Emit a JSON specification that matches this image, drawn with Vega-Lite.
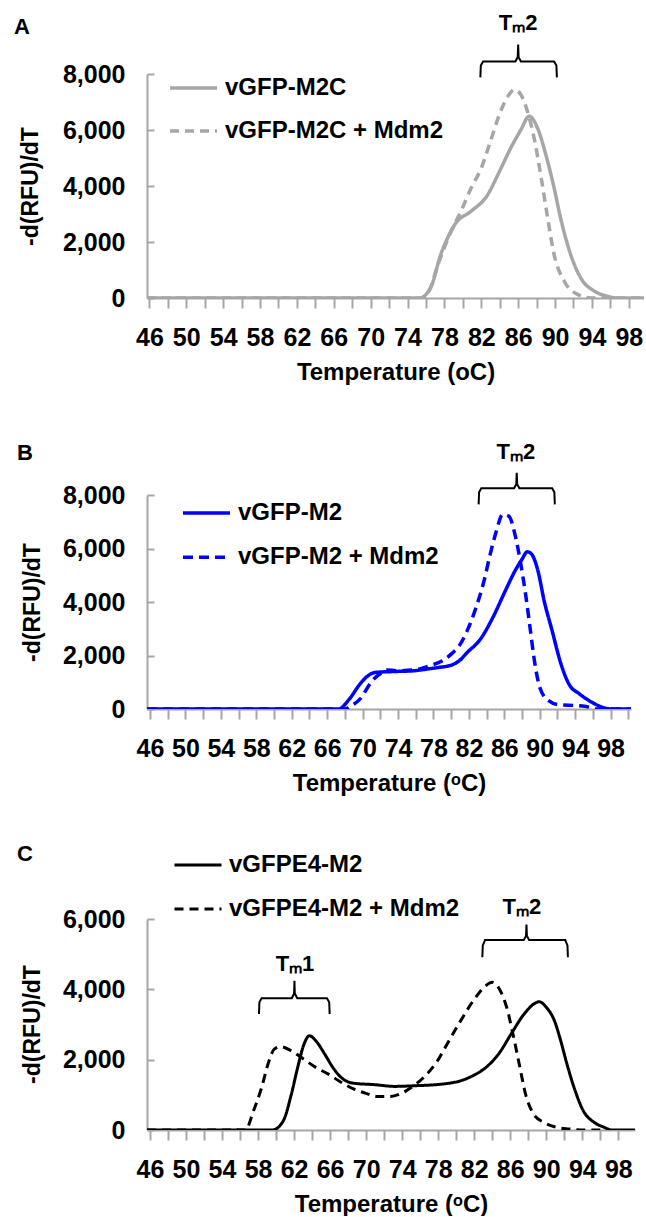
{
"$schema": "https://vega.github.io/schema/vega-lite/v6.json",
"padding": {"left": 14, "top": 11, "right": 0, "bottom": 0},
"config": {
  "view": {"stroke": null},
  "font": "Liberation Sans",
  "axis": {"domainColor": "#a6a6a6", "domainWidth": 2, "tickColor": "#a6a6a6", "tickWidth": 2, "grid": false, "labelColor": "#000", "titleColor": "#000", "labelFontWeight": "bold", "titleFontWeight": "bold", "labelFlush": false, "labelOverlap": false},
  "legend": {"title": null, "orient": "none", "symbolType": "stroke", "symbolSize": 2209, "symbolStrokeWidth": 3.5, "labelFontSize": 24, "labelFontWeight": "bold", "labelColor": "#000", "padding": 0, "labelOffset": 6, "labelLimit": 400},
  "title": {"anchor": "start", "frame": "group", "fontSize": 22, "fontWeight": "bold", "color": "#000", "baseline": "alphabetic"}
},
"spacing": 197,
"bounds": "flush",
"resolve": {"scale": {"strokeDash": "independent"}, "legend": {"strokeDash": "independent"}},
"vconcat": [
{
  "width": 497, "height": 224,
  "title": {"text": "A", "dx": -133, "offset": 36, "dy": 63.6},
  "resolve": {"axis": {"x": "independent"}},
  "layer": [
    {
      "data": {"values": [
        {"s":"vGFP-M2C","T":45.7,"v":0},{"s":"vGFP-M2C","T":60,"v":0},{"s":"vGFP-M2C","T":75.3,"v":0},{"s":"vGFP-M2C","T":76.5,"v":360},{"s":"vGFP-M2C","T":77.6,"v":1550},{"s":"vGFP-M2C","T":78.7,"v":2380},{"s":"vGFP-M2C","T":79.25,"v":2680},{"s":"vGFP-M2C","T":80.9,"v":3100},{"s":"vGFP-M2C","T":82.7,"v":3690},{"s":"vGFP-M2C","T":83.8,"v":4400},{"s":"vGFP-M2C","T":85.2,"v":5360},{"s":"vGFP-M2C","T":86.3,"v":6010},{"s":"vGFP-M2C","T":87.2,"v":6490},{"s":"vGFP-M2C","T":88.1,"v":6070},{"s":"vGFP-M2C","T":89.0,"v":5120},{"s":"vGFP-M2C","T":89.9,"v":3930},{"s":"vGFP-M2C","T":90.6,"v":2860},{"s":"vGFP-M2C","T":91.7,"v":1550},{"s":"vGFP-M2C","T":92.8,"v":710},{"s":"vGFP-M2C","T":94.3,"v":240},{"s":"vGFP-M2C","T":95.7,"v":60},{"s":"vGFP-M2C","T":96.8,"v":0},{"s":"vGFP-M2C","T":99.7,"v":0},
        {"s":"vGFP-M2C + Mdm2","T":45.7,"v":0},{"s":"vGFP-M2C + Mdm2","T":60,"v":0},{"s":"vGFP-M2C + Mdm2","T":75.6,"v":0},{"s":"vGFP-M2C + Mdm2","T":76.4,"v":300},{"s":"vGFP-M2C + Mdm2","T":77.3,"v":1190},{"s":"vGFP-M2C + Mdm2","T":78.9,"v":2500},{"s":"vGFP-M2C + Mdm2","T":79.8,"v":3100},{"s":"vGFP-M2C + Mdm2","T":80.9,"v":3930},{"s":"vGFP-M2C + Mdm2","T":82.0,"v":4640},{"s":"vGFP-M2C + Mdm2","T":83.0,"v":5600},{"s":"vGFP-M2C + Mdm2","T":84.1,"v":6670},{"s":"vGFP-M2C + Mdm2","T":85.0,"v":7260},{"s":"vGFP-M2C + Mdm2","T":85.6,"v":7440},{"s":"vGFP-M2C + Mdm2","T":86.3,"v":7260},{"s":"vGFP-M2C + Mdm2","T":87.0,"v":6670},{"s":"vGFP-M2C + Mdm2","T":87.8,"v":5600},{"s":"vGFP-M2C + Mdm2","T":88.5,"v":4290},{"s":"vGFP-M2C + Mdm2","T":89.2,"v":2860},{"s":"vGFP-M2C + Mdm2","T":89.9,"v":1550},{"s":"vGFP-M2C + Mdm2","T":91.0,"v":600},{"s":"vGFP-M2C + Mdm2","T":92.5,"v":120},{"s":"vGFP-M2C + Mdm2","T":93.9,"v":0},{"s":"vGFP-M2C + Mdm2","T":99.7,"v":0}
      ]},
      "mark": {"type": "line", "color": "#a6a6a6", "strokeWidth": 3.5, "clip": true, "interpolate": "monotone"},
      "encoding": {
        "x": {"field": "T", "type": "quantitative", "scale": {"domain": [45.74, 99.65], "nice": false, "zero": false},
          "axis": {"orient": "bottom", "values": [46,50,54,58,62,66,70,74,78,82,86,90,94,98], "ticks": false, "labelOverlap": false, "title": "Temperature (oC)", "titleFontSize": 24, "titleY": 62, "titleBaseline": "top", "labelFontSize": 25, "labelPadding": 27}},
        "y": {"field": "v", "type": "quantitative", "scale": {"domain": [0, 8000], "nice": false},
          "axis": {"values": [0,1000,2000,3000,4000,5000,6000,7000,8000], "labelExpr": "datum.value % 2000 == 0 ? format(datum.value, ',') : ''", "labelOverlap": false, "title": "-d(RFU)/dT", "titleFontSize": 23, "titleX": -117, "titleY": 112, "titleAngle": -90, "titleBaseline": "middle", "titleAlign": "center", "labelFontSize": 25, "labelPadding": 29, "tickSize": -7}},
        "strokeDash": {"field": "s", "type": "nominal", "scale": {"domain": ["vGFP-M2C", "vGFP-M2C + Mdm2"], "range": [[1, 0], [9, 6]]},
          "legend": {"legendX": 21, "legendY": -11.5, "rowPadding": 5, "symbolStrokeColor": "#a6a6a6"}}
      }
    },
    {
      "data": {"values": [
        {"o":1,"T":81.9,"v":7880},{"o":2,"T":81.95,"v":8300},{"o":3,"T":82.2,"v":8450},{"o":4,"T":85.7,"v":8450},{"o":5,"T":85.95,"v":8600},{"o":6,"T":86.0,"v":9050},{"o":7,"T":86.05,"v":8600},{"o":8,"T":86.3,"v":8450},{"o":9,"T":89.9,"v":8450},{"o":10,"T":90.15,"v":8300},{"o":11,"T":90.2,"v":7880}
      ]},
      "mark": {"type": "line", "color": "#000", "strokeWidth": 2, "clip": false},
      "encoding": {"x": {"field": "T", "type": "quantitative", "axis": {"orient": "bottom", "values": [46,48,50,52,54,56,58,60,62,64,66,68,70,72,74,76,78,80,82,84,86,88,90,92,94,96,98], "labels": false, "domain": false, "title": null, "tickSize": 10}}, "y": {"field": "v", "type": "quantitative"}, "order": {"field": "o", "type": "quantitative"}}
    },
    {
      "data": {"values": [{"T": 86.0, "v": 9580, "label": "Tₘ2"}]},
      "mark": {"type": "text", "fontSize": 22, "fontWeight": "bold", "color": "#000", "baseline": "alphabetic", "align": "center", "clip": false},
      "encoding": {"x": {"field": "T", "type": "quantitative", "axis": null}, "y": {"field": "v", "type": "quantitative"}, "text": {"field": "label"}}
    }
  ]
},
{
  "spacing": 210,
  "bounds": "flush",
  "resolve": {"scale": {"strokeDash": "independent"}, "legend": {"strokeDash": "independent"}},
  "vconcat": [
  {
    "width": 484, "height": 214,
    "title": {"text": "B", "dx": -130, "offset": 22, "dy": 45.3},
    "resolve": {"axis": {"x": "independent"}},
    "layer": [
      {
        "data": {"values": [
          {"s":"vGFP-M2","T":45.66,"v":0},{"s":"vGFP-M2","T":60,"v":0},{"s":"vGFP-M2","T":67.3,"v":0},{"s":"vGFP-M2","T":68.5,"v":370},{"s":"vGFP-M2","T":69.7,"v":930},{"s":"vGFP-M2","T":70.6,"v":1240},{"s":"vGFP-M2","T":71.5,"v":1370},{"s":"vGFP-M2","T":73.4,"v":1400},{"s":"vGFP-M2","T":75.8,"v":1430},{"s":"vGFP-M2","T":77.2,"v":1490},{"s":"vGFP-M2","T":78.6,"v":1555},{"s":"vGFP-M2","T":80.0,"v":1640},{"s":"vGFP-M2","T":80.9,"v":1800},{"s":"vGFP-M2","T":81.8,"v":2110},{"s":"vGFP-M2","T":83.3,"v":2610},{"s":"vGFP-M2","T":84.7,"v":3420},{"s":"vGFP-M2","T":86.1,"v":4410},{"s":"vGFP-M2","T":87.2,"v":5160},{"s":"vGFP-M2","T":88.0,"v":5600},{"s":"vGFP-M2","T":88.6,"v":5880},{"s":"vGFP-M2","T":89.1,"v":5780},{"s":"vGFP-M2","T":89.8,"v":5160},{"s":"vGFP-M2","T":90.5,"v":4040},{"s":"vGFP-M2","T":91.4,"v":2920},{"s":"vGFP-M2","T":92.4,"v":1680},{"s":"vGFP-M2","T":93.3,"v":930},{"s":"vGFP-M2","T":94.5,"v":560},{"s":"vGFP-M2","T":95.9,"v":250},{"s":"vGFP-M2","T":97.1,"v":60},{"s":"vGFP-M2","T":98.0,"v":0},{"s":"vGFP-M2","T":100.3,"v":0},
          {"s":"vGFP-M2 + Mdm2","T":45.66,"v":0},{"s":"vGFP-M2 + Mdm2","T":60,"v":0},{"s":"vGFP-M2 + Mdm2","T":68.0,"v":0},{"s":"vGFP-M2 + Mdm2","T":68.6,"v":100},{"s":"vGFP-M2 + Mdm2","T":69.7,"v":370},{"s":"vGFP-M2 + Mdm2","T":71.1,"v":1060},{"s":"vGFP-M2 + Mdm2","T":72.2,"v":1370},{"s":"vGFP-M2 + Mdm2","T":72.7,"v":1460},{"s":"vGFP-M2 + Mdm2","T":73.9,"v":1430},{"s":"vGFP-M2 + Mdm2","T":75.8,"v":1460},{"s":"vGFP-M2 + Mdm2","T":77.6,"v":1620},{"s":"vGFP-M2 + Mdm2","T":79.0,"v":1800},{"s":"vGFP-M2 + Mdm2","T":80.0,"v":2050},{"s":"vGFP-M2 + Mdm2","T":80.9,"v":2360},{"s":"vGFP-M2 + Mdm2","T":81.8,"v":2920},{"s":"vGFP-M2 + Mdm2","T":82.8,"v":3790},{"s":"vGFP-M2 + Mdm2","T":83.7,"v":4780},{"s":"vGFP-M2 + Mdm2","T":84.4,"v":5780},{"s":"vGFP-M2 + Mdm2","T":85.1,"v":6650},{"s":"vGFP-M2 + Mdm2","T":85.8,"v":7270},{"s":"vGFP-M2 + Mdm2","T":86.5,"v":7210},{"s":"vGFP-M2 + Mdm2","T":87.2,"v":6530},{"s":"vGFP-M2 + Mdm2","T":87.8,"v":5530},{"s":"vGFP-M2 + Mdm2","T":88.4,"v":4290},{"s":"vGFP-M2 + Mdm2","T":88.9,"v":3050},{"s":"vGFP-M2 + Mdm2","T":89.4,"v":1800},{"s":"vGFP-M2 + Mdm2","T":90.0,"v":810},{"s":"vGFP-M2 + Mdm2","T":91.0,"v":310},{"s":"vGFP-M2 + Mdm2","T":92.1,"v":160},{"s":"vGFP-M2 + Mdm2","T":94.5,"v":120},{"s":"vGFP-M2 + Mdm2","T":95.7,"v":60},{"s":"vGFP-M2 + Mdm2","T":96.4,"v":0},{"s":"vGFP-M2 + Mdm2","T":100.3,"v":0}
        ]},
        "mark": {"type": "line", "color": "#0000ff", "strokeWidth": 3.5, "clip": true, "interpolate": "monotone"},
        "encoding": {
          "x": {"field": "T", "type": "quantitative", "scale": {"domain": [45.66, 100.3], "nice": false, "zero": false},
            "axis": {"orient": "bottom", "values": [46,50,54,58,62,66,70,74,78,82,86,90,94,98], "ticks": false, "labelOverlap": false, "title": "Temperature (ᵒC)", "titleFontSize": 24, "titleY": 62, "titleBaseline": "top", "labelFontSize": 25, "labelPadding": 27}},
          "y": {"field": "v", "type": "quantitative", "scale": {"domain": [0, 8000], "nice": false},
            "axis": {"values": [0,1000,2000,3000,4000,5000,6000,7000,8000], "labelExpr": "datum.value % 2000 == 0 ? format(datum.value, ',') : ''", "labelOverlap": false, "title": "-d(RFU)/dT", "titleFontSize": 23, "titleX": -115, "titleY": 107, "titleAngle": -90, "titleBaseline": "middle", "titleAlign": "center", "labelFontSize": 25, "labelPadding": 29, "tickSize": -7}},
          "strokeDash": {"field": "s", "type": "nominal", "scale": {"domain": ["vGFP-M2", "vGFP-M2 + Mdm2"], "range": [[1, 0], [10, 6]]},
            "legend": {"legendX": 34, "legendY": -7.5, "rowPadding": 6.3, "symbolStrokeColor": "#0000ff"}}
        }
      },
      {
        "data": {"values": [
          {"o":1,"T":83.1,"v":7650},{"o":2,"T":83.15,"v":8100},{"o":3,"T":83.4,"v":8250},{"o":4,"T":87.1,"v":8250},{"o":5,"T":87.35,"v":8400},{"o":6,"T":87.4,"v":8830},{"o":7,"T":87.45,"v":8400},{"o":8,"T":87.7,"v":8250},{"o":9,"T":91.4,"v":8250},{"o":10,"T":91.65,"v":8100},{"o":11,"T":91.7,"v":7650}
        ]},
        "mark": {"type": "line", "color": "#000", "strokeWidth": 2, "clip": false},
        "encoding": {"x": {"field": "T", "type": "quantitative", "axis": {"orient": "bottom", "values": [46,48,50,52,54,56,58,60,62,64,66,68,70,72,74,76,78,80,82,84,86,88,90,92,94,96,98,100], "labels": false, "domain": false, "title": null, "tickSize": 10}}, "y": {"field": "v", "type": "quantitative"}, "order": {"field": "o", "type": "quantitative"}}
      },
      {
        "data": {"values": [{"T": 87.3, "v": 9330, "label": "Tₘ2"}]},
        "mark": {"type": "text", "fontSize": 22, "fontWeight": "bold", "color": "#000", "baseline": "alphabetic", "align": "center", "clip": false},
        "encoding": {"x": {"field": "T", "type": "quantitative", "axis": null}, "y": {"field": "v", "type": "quantitative"}, "text": {"field": "label"}}
      }
    ]
  },
  {
    "width": 488, "height": 211,
    "title": {"text": "C", "dx": -130, "offset": 70, "dy": 96},
    "resolve": {"axis": {"x": "independent"}},
    "layer": [
      {
        "data": {"values": [
          {"s":"vGFPE4-M2","T":45.67,"v":0},{"s":"vGFPE4-M2","T":55,"v":0},{"s":"vGFPE4-M2","T":59.6,"v":0},{"s":"vGFPE4-M2","T":60.8,"v":260},{"s":"vGFPE4-M2","T":61.7,"v":1020},{"s":"vGFPE4-M2","T":62.4,"v":1780},{"s":"vGFPE4-M2","T":63.1,"v":2440},{"s":"vGFPE4-M2","T":63.7,"v":2680},{"s":"vGFPE4-M2","T":64.4,"v":2540},{"s":"vGFPE4-M2","T":65.4,"v":2160},{"s":"vGFPE4-M2","T":66.3,"v":1780},{"s":"vGFPE4-M2","T":67.2,"v":1500},{"s":"vGFPE4-M2","T":68.6,"v":1330},{"s":"vGFPE4-M2","T":70.9,"v":1290},{"s":"vGFPE4-M2","T":73.2,"v":1240},{"s":"vGFPE4-M2","T":75.5,"v":1260},{"s":"vGFPE4-M2","T":77.8,"v":1290},{"s":"vGFPE4-M2","T":79.2,"v":1330},{"s":"vGFPE4-M2","T":80.5,"v":1400},{"s":"vGFPE4-M2","T":81.9,"v":1550},{"s":"vGFPE4-M2","T":83.3,"v":1780},{"s":"vGFPE4-M2","T":84.7,"v":2160},{"s":"vGFPE4-M2","T":86.1,"v":2730},{"s":"vGFPE4-M2","T":87.4,"v":3250},{"s":"vGFPE4-M2","T":88.6,"v":3580},{"s":"vGFPE4-M2","T":89.2,"v":3650},{"s":"vGFPE4-M2","T":90.0,"v":3490},{"s":"vGFPE4-M2","T":90.9,"v":3110},{"s":"vGFPE4-M2","T":91.6,"v":2540},{"s":"vGFPE4-M2","T":92.3,"v":1870},{"s":"vGFPE4-M2","T":93.2,"v":1120},{"s":"vGFPE4-M2","T":94.1,"v":550},{"s":"vGFPE4-M2","T":95.3,"v":220},{"s":"vGFPE4-M2","T":96.4,"v":80},{"s":"vGFPE4-M2","T":97.3,"v":0},{"s":"vGFPE4-M2","T":99.85,"v":0},
          {"s":"vGFPE4-M2 + Mdm2","T":45.67,"v":0},{"s":"vGFPE4-M2 + Mdm2","T":55.2,"v":0},{"s":"vGFPE4-M2 + Mdm2","T":55.5,"v":40},{"s":"vGFPE4-M2 + Mdm2","T":55.8,"v":0},{"s":"vGFPE4-M2 + Mdm2","T":56.6,"v":0},{"s":"vGFPE4-M2 + Mdm2","T":57.5,"v":550},{"s":"vGFPE4-M2 + Mdm2","T":58.4,"v":1210},{"s":"vGFPE4-M2 + Mdm2","T":59.1,"v":1870},{"s":"vGFPE4-M2 + Mdm2","T":59.8,"v":2300},{"s":"vGFPE4-M2 + Mdm2","T":60.5,"v":2370},{"s":"vGFPE4-M2 + Mdm2","T":61.7,"v":2250},{"s":"vGFPE4-M2 + Mdm2","T":63.1,"v":2010},{"s":"vGFPE4-M2 + Mdm2","T":64.4,"v":1780},{"s":"vGFPE4-M2 + Mdm2","T":65.8,"v":1590},{"s":"vGFPE4-M2 + Mdm2","T":67.2,"v":1360},{"s":"vGFPE4-M2 + Mdm2","T":68.6,"v":1170},{"s":"vGFPE4-M2 + Mdm2","T":70.0,"v":1040},{"s":"vGFPE4-M2 + Mdm2","T":71.3,"v":955},{"s":"vGFPE4-M2 + Mdm2","T":72.7,"v":955},{"s":"vGFPE4-M2 + Mdm2","T":73.9,"v":1040},{"s":"vGFPE4-M2 + Mdm2","T":75.0,"v":1210},{"s":"vGFPE4-M2 + Mdm2","T":76.4,"v":1500},{"s":"vGFPE4-M2 + Mdm2","T":77.8,"v":1920},{"s":"vGFPE4-M2 + Mdm2","T":79.2,"v":2540},{"s":"vGFPE4-M2 + Mdm2","T":80.5,"v":3110},{"s":"vGFPE4-M2 + Mdm2","T":81.9,"v":3680},{"s":"vGFPE4-M2 + Mdm2","T":83.1,"v":4060},{"s":"vGFPE4-M2 + Mdm2","T":84.0,"v":4200},{"s":"vGFPE4-M2 + Mdm2","T":84.9,"v":3960},{"s":"vGFPE4-M2 + Mdm2","T":85.6,"v":3490},{"s":"vGFPE4-M2 + Mdm2","T":86.3,"v":2730},{"s":"vGFPE4-M2 + Mdm2","T":87.0,"v":1870},{"s":"vGFPE4-M2 + Mdm2","T":87.7,"v":1020},{"s":"vGFPE4-M2 + Mdm2","T":88.6,"v":450},{"s":"vGFPE4-M2 + Mdm2","T":89.7,"v":220},{"s":"vGFPE4-M2 + Mdm2","T":91.1,"v":80},{"s":"vGFPE4-M2 + Mdm2","T":92.5,"v":30},{"s":"vGFPE4-M2 + Mdm2","T":94.3,"v":0},{"s":"vGFPE4-M2 + Mdm2","T":96.5,"v":0}
        ]},
        "mark": {"type": "line", "color": "#000", "strokeWidth": 3, "clip": true, "interpolate": "monotone"},
        "encoding": {
          "x": {"field": "T", "type": "quantitative", "scale": {"domain": [45.67, 99.85], "nice": false, "zero": false},
            "axis": {"orient": "bottom", "values": [46,50,54,58,62,66,70,74,78,82,86,90,94,98], "ticks": false, "labelOverlap": false, "title": "Temperature (ᵒC)", "titleFontSize": 24, "titleY": 62, "titleBaseline": "top", "labelFontSize": 25, "labelPadding": 27}},
          "y": {"field": "v", "type": "quantitative", "scale": {"domain": [0, 6000], "nice": false},
            "axis": {"values": [0,1000,2000,3000,4000,5000,6000], "labelExpr": "datum.value % 2000 == 0 ? format(datum.value, ',') : ''", "labelOverlap": false, "title": "-d(RFU)/dT", "titleFontSize": 23, "titleX": -115, "titleY": 105, "titleAngle": -90, "titleBaseline": "middle", "titleAlign": "center", "labelFontSize": 25, "labelPadding": 29, "tickSize": -7}},
          "strokeDash": {"field": "s", "type": "nominal", "scale": {"domain": ["vGFPE4-M2", "vGFPE4-M2 + Mdm2"], "range": [[1, 0], [9, 6]]},
            "legend": {"legendX": 26, "legendY": -79, "rowPadding": 7, "symbolStrokeColor": "#000", "symbolStrokeWidth": 3}}
        }
      },
      {
        "data": {"values": [
          {"g":"Tm2","o":1,"T":82.9,"v":4910},{"g":"Tm2","o":2,"T":82.95,"v":5250},{"g":"Tm2","o":3,"T":83.2,"v":5400},{"g":"Tm2","o":4,"T":87.5,"v":5400},{"g":"Tm2","o":5,"T":87.75,"v":5520},{"g":"Tm2","o":6,"T":87.8,"v":5840},{"g":"Tm2","o":7,"T":87.85,"v":5520},{"g":"Tm2","o":8,"T":88.1,"v":5400},{"g":"Tm2","o":9,"T":92.1,"v":5400},{"g":"Tm2","o":10,"T":92.35,"v":5250},{"g":"Tm2","o":11,"T":92.4,"v":4910},
          {"g":"Tm1","o":1,"T":58.1,"v":3300},{"g":"Tm1","o":2,"T":58.15,"v":3630},{"g":"Tm1","o":3,"T":58.4,"v":3750},{"g":"Tm1","o":4,"T":61.75,"v":3750},{"g":"Tm1","o":5,"T":62.0,"v":3880},{"g":"Tm1","o":6,"T":62.04,"v":4245},{"g":"Tm1","o":7,"T":62.08,"v":3880},{"g":"Tm1","o":8,"T":62.35,"v":3750},{"g":"Tm1","o":9,"T":65.65,"v":3750},{"g":"Tm1","o":10,"T":65.9,"v":3630},{"g":"Tm1","o":11,"T":65.95,"v":3300}
        ]},
        "mark": {"type": "line", "color": "#000", "strokeWidth": 2, "clip": false},
        "encoding": {"x": {"field": "T", "type": "quantitative", "axis": {"orient": "bottom", "values": [46,48,50,52,54,56,58,60,62,64,66,68,70,72,74,76,78,80,82,84,86,88,90,92,94,96,98], "labels": false, "domain": false, "title": null, "tickSize": 10}}, "y": {"field": "v", "type": "quantitative"}, "detail": {"field": "g"}, "order": {"field": "o", "type": "quantitative"}}
      },
      {
        "data": {"values": [{"T": 87.3, "v": 6140, "label": "Tₘ2"}, {"T": 62.1, "v": 4530, "label": "Tₘ1"}]},
        "mark": {"type": "text", "fontSize": 22, "fontWeight": "bold", "color": "#000", "baseline": "alphabetic", "align": "center", "clip": false},
        "encoding": {"x": {"field": "T", "type": "quantitative", "axis": null}, "y": {"field": "v", "type": "quantitative"}, "text": {"field": "label"}}
      }
    ]
  }
  ]
}
]
}
